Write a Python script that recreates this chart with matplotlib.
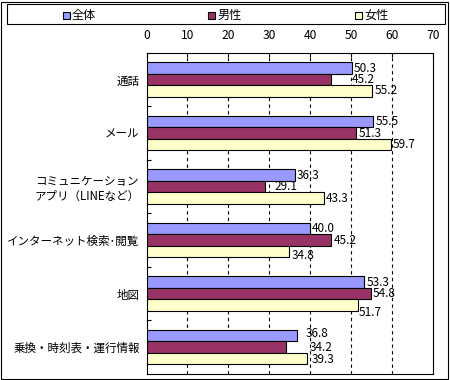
import numpy as np
import matplotlib.pyplot as plt
from matplotlib.patches import Rectangle

plt.rcParams['font.family'] = ['Noto Sans CJK JP', 'DejaVu Sans']

categories = ['通話', 'メール', 'コミュニケーション\nアプリ（LINEなど）',
              'インターネット検索･閲覧', '地図', '乗換・時刻表・運行情報']
series_names = ['全体', '男性', '女性']
zentai = [50.3, 55.5, 36.3, 40.0, 53.3, 36.8]
dansei = [45.2, 51.3, 29.1, 45.2, 54.8, 34.2]
josei = [55.2, 59.7, 43.3, 34.8, 51.7, 39.3]
colors = ['#9999FF', '#993366', '#FFFFCC']
xticks = [0, 10, 20, 30, 40, 50, 60, 70]

# label nudges (category, series) -> (dx px, dy px), like excel's placement
nudge = {(0, 1): (20, 0), (2, 1): (9, 0), (5, 0): (9, 2), (5, 1): (23, 0),
         (4, 2): (1, -7), (3, 2): (3, -4), (5, 2): (4, -1)}

W, H = 450, 380
fig = plt.figure(figsize=(W / 100, H / 100), dpi=100)

# outer frame
fig.patches.append(Rectangle((1 / W, 1 / H), 447 / W, 377 / H, transform=fig.transFigure,
                             fill=False, edgecolor='black', lw=0.8))

ax = fig.add_axes([146.5 / W, 1 - 374 / H, 286.2 / W, 321.3 / H])

y = np.arange(len(categories))
h = 0.214
all_series = [zentai, dansei, josei]
for k, (vals, c) in enumerate(zip(all_series, colors)):
    pos = y + (k - 1) * h
    ax.barh(pos, vals, height=h, color=c, edgecolor='black', linewidth=0.8, zorder=3)
    for i, (p, v) in enumerate(zip(pos, vals)):
        dx, dy = nudge.get((i, k), (2, 0))
        ax.annotate(f'{v:.1f}', (v, p), xytext=(dx * 0.72, dy * 0.72), textcoords='offset points',
                    va='center', ha='left', fontsize=8.5, zorder=4)

ax.set_xlim(0, 70)
ax.set_ylim(len(categories) - 0.5, -0.5)
ax.xaxis.tick_top()
ax.set_xticks(xticks)
ax.tick_params(axis='x', direction='in', length=3, width=0.8, pad=8, labelsize=8.7)
ax.set_yticks(y)
ax.set_yticklabels(categories, fontsize=8.3, multialignment='center')
ax.tick_params(axis='y', which='major', length=0, pad=5)
ax.set_yticks(np.arange(0.5, len(categories) - 1, 1), minor=True)
ax.tick_params(axis='y', which='minor', direction='in', length=3, width=0.8)
for xv in xticks[1:-1]:
    ax.axvline(xv, color='black', lw=0.8, ls=(0, (3, 3)), zorder=1)
for s in ax.spines.values():
    s.set_linewidth(0.8)

# legend box
fig.patches.append(Rectangle((7 / W, 1 - 24 / H), 438 / W, 20 / H, transform=fig.transFigure,
                             fill=False, edgecolor='black', lw=0.8))
sq_x = [63, 208, 355]
for name, c, sx in zip(series_names, colors, sq_x):
    fig.patches.append(Rectangle((sx / W, 1 - 19 / H), 7 / W, 7 / H, transform=fig.transFigure,
                                 facecolor=c, edgecolor='black', lw=0.8))
    fig.text((sx + 9) / W, 1 - 15.5 / H, name, fontsize=8.7, va='center', ha='left')

fig.savefig('out.png', dpi=100)
